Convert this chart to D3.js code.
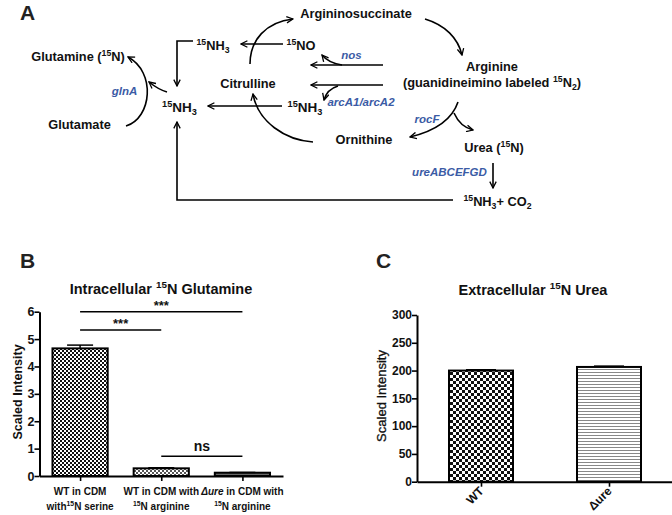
<!DOCTYPE html>
<html><head><meta charset="utf-8">
<script src="https://cdn.jsdelivr.net/npm/d3@7"></script>
<style>
html,body{margin:0;padding:0;background:#fff;}
svg{display:block;font-family:"Liberation Sans",Arial,sans-serif;}
</style></head>
<body>
<svg id="fig" width="672" height="515"></svg>
<script>
// ---- Data ----
const categoriesB = ["WT in CDM|with^{15}N serine", "WT in CDM with|^{15}N arginine", "@Δure@ in CDM with|^{15}N arginine"];
const valuesB = [4.66, 0.28, 0.12];
const errorsB = [0.12, 0.02, 0.01];
const ticksB = [0, 1, 2, 3, 4, 5, 6];
const sigB = [[0, 2, "***"], [0, 1, "***"], [1, 2, "ns"]];
const sigLevelsB = [6.0, 5.33, 0.72];

const categoriesC = ["WT", "Δure"];
const valuesC = [200, 206.5];
const errorsC = [1.5, 1.5];
const ticksC = [0, 50, 100, 150, 200, 250, 300];

// pathway diagram labels (text, x, y, style)
const nodes = [
  ["Argininosuccinate", 356, 18, "b"],
  ["^{15}NH_{3}", 213, 50, "b"],
  ["^{15}NO", 301, 50, "b"],
  ["Glutamine (^{15}N)", 78, 61, "b"],
  ["glnA", 124.5, 95, "e"],
  ["Citrulline", 248, 88, "b"],
  ["^{15}NH_{3}", 179.5, 112, "B"],
  ["^{15}NH_{3}", 305, 112, "B"],
  ["Glutamate", 79.5, 129, "b"],
  ["Ornithine", 364, 144, "b"],
  ["nos", 351.5, 59, "e"],
  ["arcA1/arcA2", 361, 106, "e"],
  ["Arginine", 492, 71, "b"],
  ["(guanidineimino labeled ^{15}N_{2})", 492, 87, "b"],
  ["rocF", 427, 123, "e"],
  ["Urea (^{15}N)", 494, 152, "b"],
  ["ureABCEFGD", 449.5, 176, "e"],
  ["^{15}NH_{3}+ CO_{2}", 497.5, 206, "b"]
];
const arrows = [
  "M193,41 H177 V86",
  "M283,44 H241",
  "M250,64 C250,40 266,22 293,19",
  "M383,65 H311",
  "M383,85 H311",
  "M342,65 C335,64 327,61 322,55",
  "M338,86 C331,88 326,93 324,100",
  "M282,106 H208",
  "M313,142 C285,140 258,122 253,94",
  "M126,126 C152,118 156,72 128,57",
  "M167,92 C160,90 154,86 149,82",
  "M425,19 C445,25 458,38 462,55",
  "M458,102 C452,120 435,131 410,137",
  "M454,113 C458,122 465,128 473,130",
  "M493,163 V188",
  "M453,200 H177 V122"
];

const svg = d3.select("#fig");
const FONT = '"Liberation Sans",Arial,sans-serif';
const BLUE = "#3b5ba5";

// rich text: ^{sup} _{sub} @italic@
function rich(sel, str, size) {
  const parts = str.split(/(\^\{[^}]*\}|_\{[^}]*\}|@[^@]*@)/).filter(s => s.length);
  let off = 0;
  parts.forEach(p => {
    const t = sel.append("tspan");
    let target = 0, fs = size, txt = p, it = false;
    if (p.startsWith("^{")) { txt = p.slice(2, -1); target = -0.38 * size; fs = size * 0.68; }
    else if (p.startsWith("_{")) { txt = p.slice(2, -1); target = 0.25 * size; fs = size * 0.68; }
    else if (p.startsWith("@")) { txt = p.slice(1, -1); it = true; }
    t.attr("dy", target - off).attr("font-size", fs).text(txt);
    if (it) t.attr("font-style", "italic");
    off = target;
  });
}

// defs
const defs = svg.append("defs");
defs.append("marker").attr("id", "arr").attr("viewBox", "0 0 10 10")
  .attr("refX", 9).attr("refY", 5).attr("markerWidth", 8).attr("markerHeight", 8)
  .attr("markerUnits", "userSpaceOnUse").attr("orient", "auto")
  .append("path").attr("d", "M1,1 L9,5 L1,9").attr("fill", "none")
  .attr("stroke", "#000").attr("stroke-width", 1.6);

function checker(id, s, col, bg) {
  const p = defs.append("pattern").attr("id", id).attr("width", 2 * s).attr("height", 2 * s)
    .attr("patternUnits", "userSpaceOnUse");
  p.append("rect").attr("width", 2 * s).attr("height", 2 * s).attr("fill", bg);
  p.append("rect").attr("width", s).attr("height", s).attr("fill", col);
  p.append("rect").attr("x", s).attr("y", s).attr("width", s).attr("height", s).attr("fill", col);
}
checker("chkB", 2, "#111", "#fff");
checker("chkB2", 2, "#555", "#fff");
checker("chkC", 3, "#111", "#fff");
const st = defs.append("pattern").attr("id", "stripe").attr("width", 4).attr("height", 3)
  .attr("patternUnits", "userSpaceOnUse");
st.append("rect").attr("width", 4).attr("height", 3).attr("fill", "#fff");
st.append("rect").attr("width", 4).attr("height", 1).attr("fill", "#888");
const fillsB = ["url(#chkB)", "url(#chkB2)", "#666"];
const fillsC = ["url(#chkC)", "url(#stripe)"];

// panel labels
[["A", 20, 20], ["B", 20, 268], ["C", 376, 268]].forEach(([t, x, y]) =>
  svg.append("text").attr("x", x).attr("y", y).attr("font-size", 21).attr("font-weight", "bold")
    .attr("fill", "#222").text(t));

// ---- Panel A diagram ----
const gA = svg.append("g");
gA.selectAll("path").data(arrows).join("path").attr("d", d => d)
  .attr("fill", "none").attr("stroke", "#000").attr("stroke-width", 1.6)
  .attr("marker-end", "url(#arr)");
nodes.forEach(([t, x, y, s]) => {
  const size = s === "B" ? 13.5 : (s === "e" ? 11.5 : 12.8);
  const txt = gA.append("text").attr("x", x).attr("y", y).attr("text-anchor", "middle")
    .attr("font-weight", "bold").attr("fill", s === "e" ? BLUE : "#111");
  if (s === "e") txt.attr("font-style", "italic");
  rich(txt, t, size);
});

// ---- Panel B ----
const xB = d3.scalePoint().domain(d3.range(categoriesB.length)).range([39.5, 283]).padding(0.5);
const yB = d3.scaleLinear().domain([0, 6]).range([476, 311.7]);
const bwB = xB.step() * 0.68;
const gB = svg.append("g");
gB.append("text").attr("x", 161).attr("y", 294).attr("text-anchor", "middle")
  .attr("font-weight", "bold").attr("fill", "#111").call(t => rich(t, "Intracellular ^{15}N Glutamine", 14.5));
gB.append("text").attr("transform", "translate(22,392) rotate(-90)").attr("text-anchor", "middle")
  .attr("font-weight", "bold").attr("font-size", 12.5).attr("fill", "#111").text("Scaled Intensity");
// bars
gB.selectAll("rect.bar").data(valuesB).join("rect").attr("class", "bar")
  .attr("x", (d, i) => xB(i) - bwB / 2).attr("y", d => yB(d))
  .attr("width", bwB).attr("height", d => yB(0) - yB(d))
  .attr("fill", (d, i) => fillsB[i]).attr("stroke", "#000").attr("stroke-width", 2);
// error bars
valuesB.forEach((v, i) => {
  const x = xB(i);
  gB.append("line").attr("x1", x).attr("x2", x).attr("y1", yB(v)).attr("y2", yB(v + errorsB[i]))
    .attr("stroke", "#000").attr("stroke-width", 1.5);
  gB.append("line").attr("x1", x - 13).attr("x2", x + 13).attr("y1", yB(v + errorsB[i])).attr("y2", yB(v + errorsB[i]))
    .attr("stroke", "#000").attr("stroke-width", 1.5);
});
// axes
const axYB = gB.append("g").attr("transform", "translate(39.5,0)")
  .call(d3.axisLeft(yB).tickValues(ticksB).tickSize(5).tickSizeOuter(0).tickFormat(d3.format("d")));
const axXB = gB.append("g").attr("transform", `translate(0,${yB(0)})`)
  .call(d3.axisBottom(xB).tickSize(5).tickSizeOuter(0).tickFormat(""));
[axYB, axXB].forEach(a => {
  a.select(".domain").attr("stroke", "#000").attr("stroke-width", 2);
  a.selectAll(".tick line").attr("stroke", "#000").attr("stroke-width", 1.6);
  a.selectAll("text").attr("font-family", FONT).attr("font-size", 12.5).attr("font-weight", "bold").attr("fill", "#111");
});
axYB.selectAll(".tick text").attr("x", -5);
// x labels
categoriesB.forEach((c, i) => {
  c.split("|").forEach((line, j) => {
    const t = gB.append("text").attr("x", xB(i)).attr("y", 495 + j * 15).attr("text-anchor", "middle")
      .attr("font-weight", "bold").attr("fill", "#111");
    rich(t, line, 10);
  });
});
// significance
sigB.forEach(([a, b, lab], k) => {
  const y = yB(sigLevelsB[k]);
  gB.append("line").attr("x1", xB(a)).attr("x2", xB(b)).attr("y1", y).attr("y2", y)
    .attr("stroke", "#000").attr("stroke-width", 1.6);
  gB.append("text").attr("x", (xB(a) + xB(b)) / 2).attr("y", lab === "ns" ? y - 5 : y - 2)
    .attr("text-anchor", "middle").attr("font-weight", "bold")
    .attr("font-size", lab === "ns" ? 14 : 13).attr("fill", "#111").text(lab);
});

// ---- Panel C ----
const xC = d3.scalePoint().domain(d3.range(categoriesC.length)).range([417, 673]).padding(0.5);
const yC = d3.scaleLinear().domain([0, 300]).range([481.7, 315]);
const bwC = xC.step() * 0.5;
const gC = svg.append("g");
gC.append("text").attr("x", 533).attr("y", 295).attr("text-anchor", "middle")
  .attr("font-weight", "bold").attr("fill", "#111").call(t => rich(t, "Extracellular ^{15}N Urea", 14.5));
gC.append("text").attr("transform", "translate(386,396) rotate(-90)").attr("text-anchor", "middle")
  .attr("font-size", 13).attr("fill", "#111").attr("stroke", "#111").attr("stroke-width", 0.3)
  .text("Scaled Intensity");
gC.selectAll("rect.bar").data(valuesC).join("rect").attr("class", "bar")
  .attr("x", (d, i) => xC(i) - bwC / 2).attr("y", d => yC(d))
  .attr("width", bwC).attr("height", d => yC(0) - yC(d))
  .attr("fill", (d, i) => fillsC[i]).attr("stroke", "#000").attr("stroke-width", 2);
valuesC.forEach((v, i) => {
  const x = xC(i);
  gC.append("line").attr("x1", x - 15).attr("x2", x + 15).attr("y1", yC(v + errorsC[i])).attr("y2", yC(v + errorsC[i]))
    .attr("stroke", "#000").attr("stroke-width", 1.5);
});
const axYC = gC.append("g").attr("transform", "translate(417,0)")
  .call(d3.axisLeft(yC).tickValues(ticksC).tickSize(5).tickSizeOuter(0).tickFormat(d3.format("d")));
const axXC = gC.append("g").attr("transform", `translate(0,${yC(0)})`)
  .call(d3.axisBottom(xC).tickSize(5).tickSizeOuter(0).tickFormat((d, i) => categoriesC[i]));
[axYC, axXC].forEach(a => {
  a.select(".domain").attr("stroke", "#000").attr("stroke-width", 2);
  a.selectAll(".tick line").attr("stroke", "#000").attr("stroke-width", 1.6);
  a.selectAll("text").attr("font-family", FONT).attr("font-size", 12).attr("font-weight", "bold").attr("fill", "#111");
});
axYC.selectAll(".tick text").attr("x", -5);
axXC.selectAll(".tick text").attr("text-anchor", "end").attr("dy", 0).attr("y", 0)
  .attr("transform", "translate(3,10) rotate(-45)");
</script>
</body></html>
